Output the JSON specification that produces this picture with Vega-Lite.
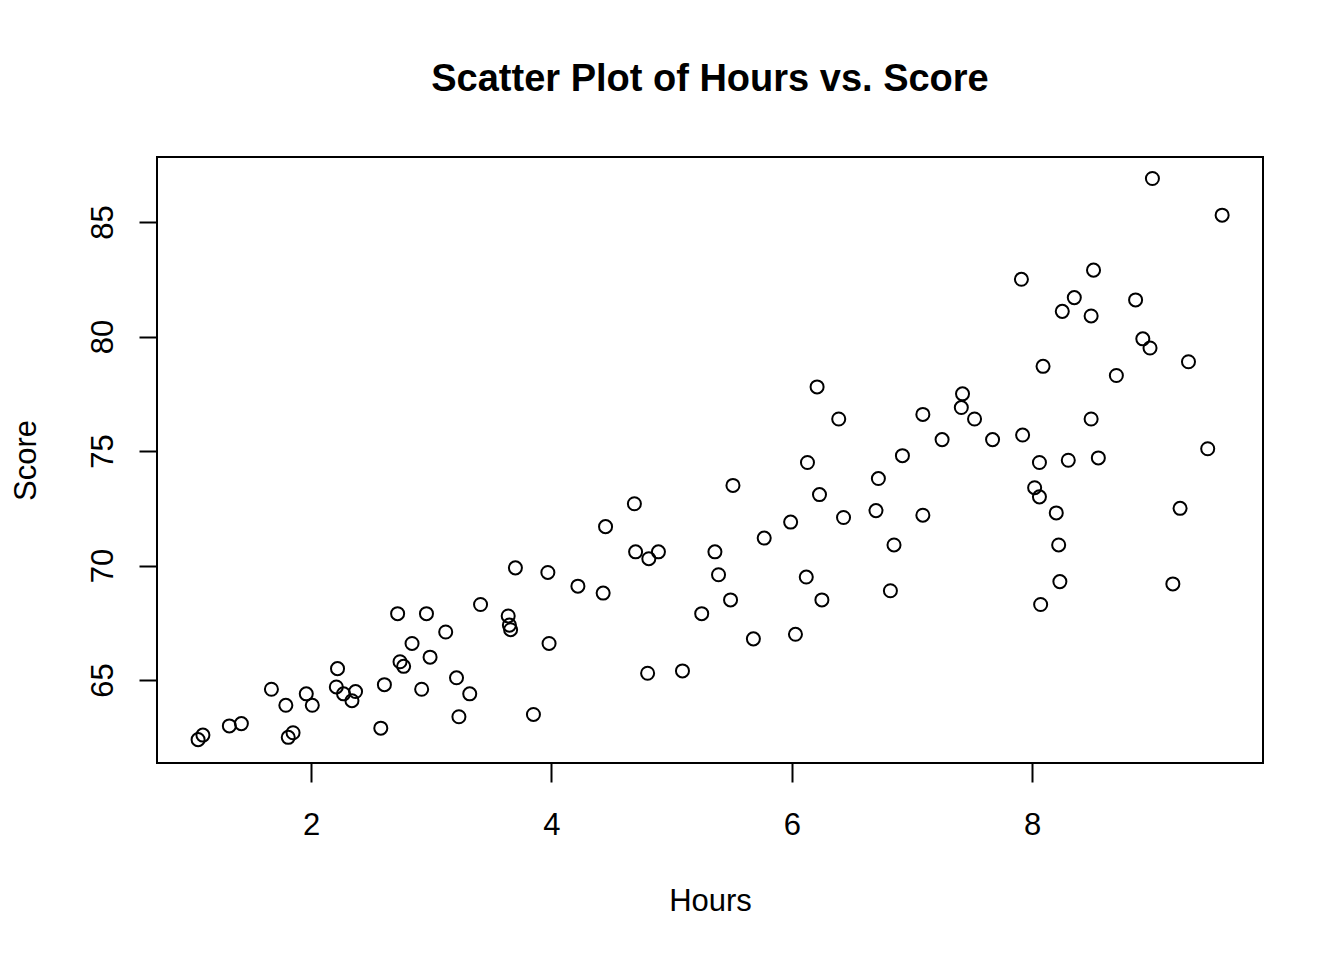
{
  "$schema": "https://vega.github.io/schema/vega-lite/v6.json",
  "description": "Scatter plot of study hours against score, in the style of an R base graphics plot.",
  "width": 1106,
  "height": 606,
  "autosize": {"type": "none"},
  "padding": {"left": 157, "top": 157, "right": 81, "bottom": 197},
  "background": "white",
  "config": {
    "font": "Liberation Sans",
    "view": {"stroke": "black", "strokeWidth": 2}
  },
  "title": {
    "text": "Scatter Plot of Hours vs. Score",
    "font": "Liberation Sans",
    "fontSize": 38,
    "fontWeight": "bold",
    "color": "black",
    "anchor": "middle",
    "baseline": "alphabetic",
    "offset": 28
  },
  "data": {
    "values": [
      {"Hours": 1.06, "Score": 62.4}, {"Hours": 1.10, "Score": 62.6}, {"Hours": 1.32, "Score": 63.0},
      {"Hours": 1.42, "Score": 63.1}, {"Hours": 1.67, "Score": 64.6}, {"Hours": 1.79, "Score": 63.9},
      {"Hours": 1.81, "Score": 62.5}, {"Hours": 1.85, "Score": 62.7}, {"Hours": 1.96, "Score": 64.4},
      {"Hours": 2.01, "Score": 63.9}, {"Hours": 2.22, "Score": 65.5}, {"Hours": 2.21, "Score": 64.7},
      {"Hours": 2.27, "Score": 64.4}, {"Hours": 2.34, "Score": 64.1}, {"Hours": 2.37, "Score": 64.5},
      {"Hours": 2.58, "Score": 62.9}, {"Hours": 2.61, "Score": 64.8}, {"Hours": 2.72, "Score": 67.9},
      {"Hours": 2.74, "Score": 65.8}, {"Hours": 2.77, "Score": 65.6}, {"Hours": 2.84, "Score": 66.6},
      {"Hours": 2.92, "Score": 64.6}, {"Hours": 2.96, "Score": 67.9}, {"Hours": 2.99, "Score": 66.0},
      {"Hours": 3.12, "Score": 67.1}, {"Hours": 3.21, "Score": 65.1}, {"Hours": 3.23, "Score": 63.4},
      {"Hours": 3.32, "Score": 64.4}, {"Hours": 3.41, "Score": 68.3}, {"Hours": 3.64, "Score": 67.8},
      {"Hours": 3.65, "Score": 67.4}, {"Hours": 3.66, "Score": 67.2}, {"Hours": 3.70, "Score": 69.9},
      {"Hours": 3.85, "Score": 63.5}, {"Hours": 3.97, "Score": 69.7}, {"Hours": 3.98, "Score": 66.6},
      {"Hours": 4.22, "Score": 69.1}, {"Hours": 4.43, "Score": 68.8}, {"Hours": 4.45, "Score": 71.7},
      {"Hours": 4.69, "Score": 72.7}, {"Hours": 4.70, "Score": 70.6}, {"Hours": 4.80, "Score": 65.3},
      {"Hours": 4.81, "Score": 70.3}, {"Hours": 4.89, "Score": 70.6}, {"Hours": 5.09, "Score": 65.4},
      {"Hours": 5.25, "Score": 67.9}, {"Hours": 5.36, "Score": 70.6}, {"Hours": 5.39, "Score": 69.6},
      {"Hours": 5.49, "Score": 68.5}, {"Hours": 5.51, "Score": 73.5}, {"Hours": 5.68, "Score": 66.8},
      {"Hours": 5.77, "Score": 71.2}, {"Hours": 5.99, "Score": 71.9}, {"Hours": 6.03, "Score": 67.0},
      {"Hours": 6.12, "Score": 69.5}, {"Hours": 6.13, "Score": 74.5}, {"Hours": 6.21, "Score": 77.8},
      {"Hours": 6.23, "Score": 73.1}, {"Hours": 6.25, "Score": 68.5}, {"Hours": 6.39, "Score": 76.4},
      {"Hours": 6.43, "Score": 72.1}, {"Hours": 6.70, "Score": 72.4}, {"Hours": 6.72, "Score": 73.8},
      {"Hours": 6.82, "Score": 68.9}, {"Hours": 6.85, "Score": 70.9}, {"Hours": 6.92, "Score": 74.8},
      {"Hours": 7.09, "Score": 76.6}, {"Hours": 7.09, "Score": 72.2}, {"Hours": 7.25, "Score": 75.5},
      {"Hours": 7.41, "Score": 76.9}, {"Hours": 7.42, "Score": 77.5}, {"Hours": 7.52, "Score": 76.4},
      {"Hours": 7.67, "Score": 75.5}, {"Hours": 7.91, "Score": 82.5}, {"Hours": 7.92, "Score": 75.7},
      {"Hours": 8.02, "Score": 73.4}, {"Hours": 8.06, "Score": 73.0}, {"Hours": 8.06, "Score": 74.5},
      {"Hours": 8.07, "Score": 68.3}, {"Hours": 8.09, "Score": 78.7}, {"Hours": 8.20, "Score": 72.3},
      {"Hours": 8.22, "Score": 70.9}, {"Hours": 8.23, "Score": 69.3}, {"Hours": 8.25, "Score": 81.1},
      {"Hours": 8.30, "Score": 74.6}, {"Hours": 8.35, "Score": 81.7}, {"Hours": 8.49, "Score": 80.9},
      {"Hours": 8.49, "Score": 76.4}, {"Hours": 8.51, "Score": 82.9}, {"Hours": 8.55, "Score": 74.7},
      {"Hours": 8.70, "Score": 78.3}, {"Hours": 8.86, "Score": 81.6}, {"Hours": 8.92, "Score": 79.9},
      {"Hours": 8.98, "Score": 79.5}, {"Hours": 9.00, "Score": 86.9}, {"Hours": 9.17, "Score": 69.2},
      {"Hours": 9.23, "Score": 72.5}, {"Hours": 9.30, "Score": 78.9}, {"Hours": 9.46, "Score": 75.1},
      {"Hours": 9.58, "Score": 85.3}
    ]
  },
  "mark": {"type": "point", "shape": "circle", "filled": false, "color": "black", "size": 170, "strokeWidth": 2, "opacity": 1},
  "encoding": {
    "x": {
      "field": "Hours",
      "type": "quantitative",
      "scale": {"domain": [0.718, 9.92], "nice": false, "zero": false},
      "axis": {
        "values": [2, 4, 6, 8],
        "domain": false,
        "grid": false,
        "tickColor": "black",
        "tickWidth": 2,
        "tickSize": 19,
        "labelFont": "Liberation Sans",
        "labelFontSize": 31,
        "labelColor": "black",
        "labelBaseline": "alphabetic",
        "labelPadding": 52,
        "title": "Hours",
        "titleFont": "Liberation Sans",
        "titleFontSize": 31,
        "titleFontWeight": "normal",
        "titleColor": "black",
        "titleBaseline": "alphabetic",
        "titleAnchor": "middle",
        "titleX": 553,
        "titleY": 147
      }
    },
    "y": {
      "field": "Score",
      "type": "quantitative",
      "scale": {"domain": [61.38, 87.84], "nice": false, "zero": false},
      "axis": {
        "values": [65, 70, 75, 80, 85],
        "domain": false,
        "grid": false,
        "tickColor": "black",
        "tickWidth": 2,
        "tickSize": 18,
        "labelFont": "Liberation Sans",
        "labelFontSize": 31,
        "labelColor": "black",
        "labelAngle": -90,
        "labelAlign": "center",
        "labelBaseline": "alphabetic",
        "labelPadding": 27,
        "title": "Score",
        "titleFont": "Liberation Sans",
        "titleFontSize": 31,
        "titleFontWeight": "normal",
        "titleColor": "black",
        "titleAngle": -90,
        "titleAlign": "center",
        "titleBaseline": "alphabetic",
        "titleX": -122,
        "titleY": 303
      }
    }
  }
}
